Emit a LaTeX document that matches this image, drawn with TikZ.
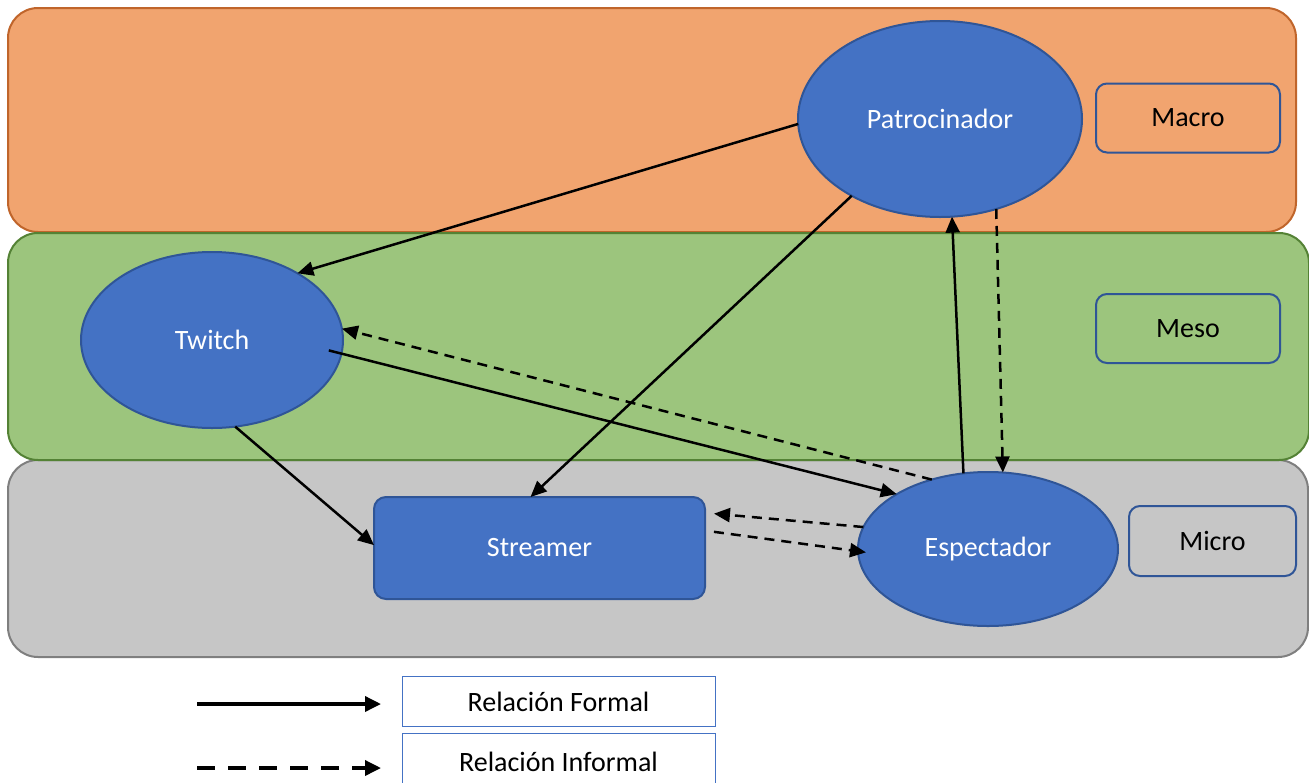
\documentclass[tikz,border=0pt]{standalone}
\usepackage{fontspec}
\setmainfont{Carlito}
\usetikzlibrary{shapes.geometric,arrows.meta}
\definecolor{orfill}{HTML}{F1A46F}
\definecolor{ordraw}{HTML}{C0652B}
\definecolor{grfill}{HTML}{9CC57D}
\definecolor{grdraw}{HTML}{548235}
\definecolor{gyfill}{HTML}{C6C6C6}
\definecolor{gydraw}{HTML}{7F7F7F}
\definecolor{bluefill}{HTML}{4472C4}
\definecolor{bluedraw}{HTML}{2F5597}
\tikzset{
  band/.style={line width=2pt, rounded corners=30pt},
  actor/.style={ellipse, fill=bluefill, draw=bluedraw, line width=2pt, inner sep=0pt, outer sep=0pt,
    text=white, font=\fontsize{28}{34}\selectfont},
  levelbox/.style={rectangle, rounded corners=11pt, draw=bluedraw, line width=2pt, inner sep=0pt, outer sep=0pt,
    minimum width=184pt, minimum height=69pt, font=\fontsize{28}{34}\selectfont},
  legendbox/.style={rectangle, draw=bluefill, line width=1pt, inner sep=0pt,
    minimum width=313pt, minimum height=50pt, font=\fontsize{28}{34}\selectfont},
  formal/.style={line width=2.5pt, -{Triangle[length=16pt,width=14pt]}},
  informal/.style={line width=2.5pt, dash pattern=on 10pt off 7pt, -{Triangle[length=16pt,width=14pt]}},
}
\begin{document}
\begin{tikzpicture}[x=1pt,y=-1pt]
\useasboundingbox (0,0) rectangle (1309,782);
% bands
\draw[band, fill=orfill, draw=ordraw] (8,8) rectangle (1296,232);
\draw[band, fill=gyfill, draw=gydraw] (8,460) rectangle (1308,657);
\draw[band, fill=grfill, draw=grdraw] (8,233) rectangle (1309,460);
% actors
\node[actor, minimum width=284pt, minimum height=196pt] (pat) at (940,119) {Patrocinador};
\node[actor, minimum width=262pt, minimum height=176pt] (tw) at (212,340) {Twitch};
\node[actor, minimum width=260pt, minimum height=154pt] (esp) at (988,549) {Espectador};
\node[rectangle, rounded corners=12pt, fill=bluefill, draw=bluedraw, line width=2pt, inner sep=0pt, outer sep=0pt,
  text=white, font=\fontsize{28}{34}\selectfont, minimum width=331pt, minimum height=102pt] (str) at (539.5,548) {Streamer};
% level boxes
\node[levelbox] (macro) at (1188,118) {Macro};
\node[levelbox] (meso) at (1188,328.5) {Meso};
\node[levelbox, minimum width=167pt, minimum height=70pt] (micro) at (1212.5,541) {Micro};
% connectors
\draw[formal] (pat.182) -- (tw.38);
\draw[formal] (pat.221.7) -- (str.100);
\draw[formal] (tw.285) -- (str.179);
\draw[formal, shorten <=-13pt] (tw.354) -- (esp.149.5);
\draw[informal] (esp.129) -- (tw.5);
\draw[formal] (esp.108.7) -- (pat.277.6);
\draw[informal] (pat.302) -- (esp.79);
\draw[informal, shorten >=9pt] (esp.170.4) -- (str.12.9);
\draw[informal, shorten <=9pt, shorten >=-8pt] (str.6.2) -- (esp.181);
% legend
\node[legendbox, text depth=0pt, text height=21pt] (lf) at (558.5,701) {Relación Formal};
\node[legendbox, minimum height=54pt, anchor=north, text depth=0pt, text height=21pt] (li) at (558.5,733) {Relación Informal};
\coordinate (lfa) at (197,704);
\coordinate (lfb) at (381,704);
\coordinate (lia) at (197,768);
\coordinate (lib) at (381,768);
\draw[line width=3.5pt, -{Triangle[length=16pt,width=15pt]}] (lfa) -- (lfb);
\draw[line width=3.5pt, dash pattern=on 18pt off 13pt, -{Triangle[length=16pt,width=15pt]}] (lia) -- (lib);
\end{tikzpicture}
\end{document}
